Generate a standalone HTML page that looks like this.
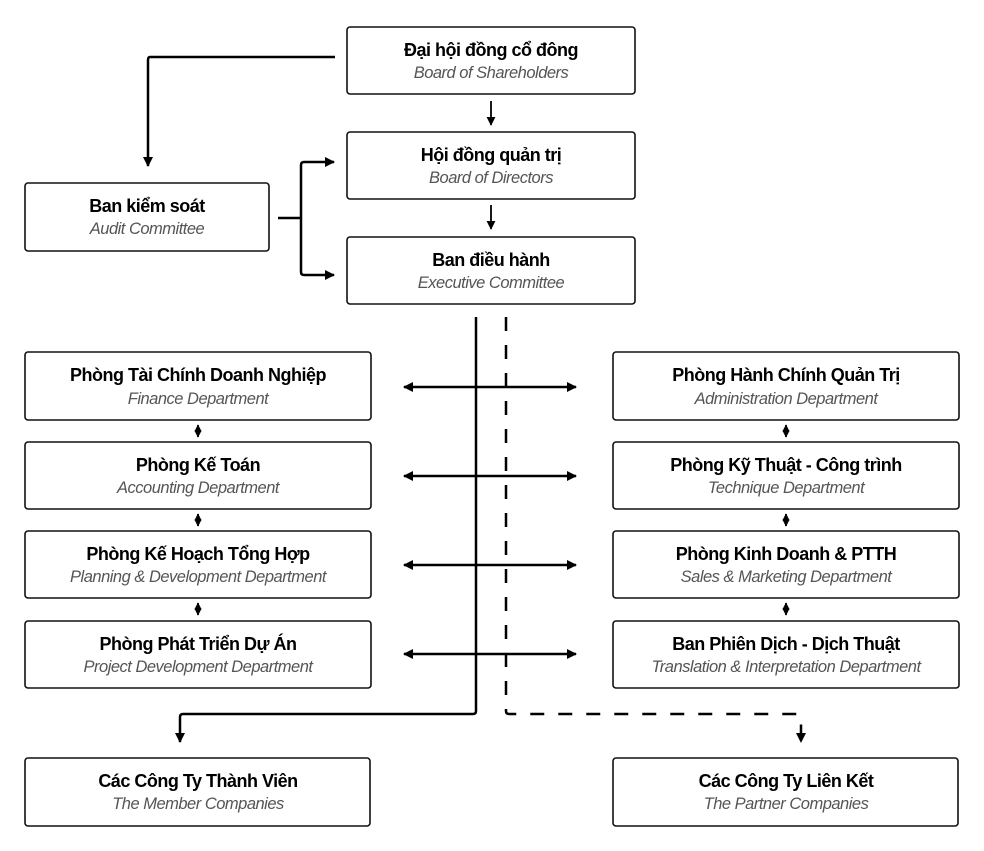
<!DOCTYPE html>
<html><head><meta charset="utf-8"><style>
html,body{margin:0;padding:0;background:#fff;}
svg{display:block}
.b{fill:#fff;stroke:#111;stroke-width:1.6}
.t{font-family:"Liberation Sans",sans-serif;font-weight:bold;font-size:18px;fill:#000;text-anchor:middle;letter-spacing:-0.5px}
.s{font-family:"Liberation Sans",sans-serif;font-style:italic;font-size:16.5px;fill:#555;text-anchor:middle;letter-spacing:-0.5px}
.l{stroke:#000;stroke-width:2.5;fill:none}
.m{stroke:#000;stroke-width:1.8;fill:none}
</style></head><body>
<svg width="984" height="851" viewBox="0 0 984 851" xmlns="http://www.w3.org/2000/svg">
<defs>
<marker id="a" viewBox="0 0 10 10" refX="9" refY="5" markerWidth="4" markerHeight="4" orient="auto-start-reverse"><path d="M0,0 L10,5 L0,10 z" fill="#000"/></marker>
<marker id="a2" viewBox="0 0 10 10" refX="9" refY="5" markerWidth="5" markerHeight="5" orient="auto-start-reverse"><path d="M0,0 L10,5 L0,10 z" fill="#000"/></marker>
</defs>

<rect class="b" x="347" y="27" width="288" height="67" rx="3"/>
<text class="t" x="491" y="56">Đại hội đồng cổ đông</text>
<text class="s" x="491" y="78">Board of Shareholders</text>

<rect class="b" x="347" y="132" width="288" height="67" rx="3"/>
<text class="t" x="491" y="161">Hội đồng quản trị</text>
<text class="s" x="491" y="183">Board of Directors</text>

<rect class="b" x="347" y="237" width="288" height="67" rx="3"/>
<text class="t" x="491" y="266">Ban điều hành</text>
<text class="s" x="491" y="288">Executive Committee</text>

<rect class="b" x="25" y="183" width="244" height="68" rx="3"/>
<text class="t" x="147" y="212">Ban kiểm soát</text>
<text class="s" x="147" y="234">Audit Committee</text>

<line class="m" x1="491" y1="101" x2="491" y2="125" marker-end="url(#a2)"/>
<line class="m" x1="491" y1="205" x2="491" y2="229" marker-end="url(#a2)"/>
<path class="l" d="M335,57 H150 Q148,57 148,60 V166" marker-end="url(#a)"/>
<path class="l" d="M278,218 H301"/>
<path class="l" d="M334,162 H304 Q301,162 301,165 V272 Q301,275 304,275 H334" marker-start="url(#a)" marker-end="url(#a)"/>

<path class="l" d="M476,317 V711 Q476,714 473,714 H183 Q180,714 180,717 V742" marker-end="url(#a)"/>
<path class="l" d="M506,317 V711 Q506,714 509,714 H798 Q801,714 801,717 V742" stroke-dasharray="14 14" marker-end="url(#a)"/>

<line class="l" x1="404" y1="387" x2="576" y2="387" marker-start="url(#a)" marker-end="url(#a)"/>
<line class="l" x1="404" y1="476" x2="576" y2="476" marker-start="url(#a)" marker-end="url(#a)"/>
<line class="l" x1="404" y1="565" x2="576" y2="565" marker-start="url(#a)" marker-end="url(#a)"/>
<line class="l" x1="404" y1="654" x2="576" y2="654" marker-start="url(#a)" marker-end="url(#a)"/>

<rect class="b" x="25" y="352" width="346" height="68" rx="3"/>
<text class="t" x="198" y="381">Phòng Tài Chính Doanh Nghiệp</text>
<text class="s" x="198" y="404">Finance Department</text>
<rect class="b" x="25" y="442" width="346" height="67" rx="3"/>
<text class="t" x="198" y="471">Phòng Kế Toán</text>
<text class="s" x="198" y="493">Accounting Department</text>
<rect class="b" x="25" y="531" width="346" height="67" rx="3"/>
<text class="t" x="198" y="560">Phòng Kế Hoạch Tổng Hợp</text>
<text class="s" x="198" y="582">Planning &amp; Development Department</text>
<rect class="b" x="25" y="621" width="346" height="67" rx="3"/>
<text class="t" x="198" y="650">Phòng Phát Triển Dự Án</text>
<text class="s" x="198" y="672">Project Development Department</text>
<line class="m" x1="198" y1="425" x2="198" y2="437" marker-start="url(#a)" marker-end="url(#a)"/>
<line class="m" x1="198" y1="514" x2="198" y2="526" marker-start="url(#a)" marker-end="url(#a)"/>
<line class="m" x1="198" y1="603" x2="198" y2="615" marker-start="url(#a)" marker-end="url(#a)"/>

<rect class="b" x="613" y="352" width="346" height="68" rx="3"/>
<text class="t" x="786" y="381">Phòng Hành Chính Quản Trị</text>
<text class="s" x="786" y="404">Administration Department</text>
<rect class="b" x="613" y="442" width="346" height="67" rx="3"/>
<text class="t" x="786" y="471">Phòng Kỹ Thuật - Công trình</text>
<text class="s" x="786" y="493">Technique Department</text>
<rect class="b" x="613" y="531" width="346" height="67" rx="3"/>
<text class="t" x="786" y="560">Phòng Kinh Doanh &amp; PTTH</text>
<text class="s" x="786" y="582">Sales &amp; Marketing Department</text>
<rect class="b" x="613" y="621" width="346" height="67" rx="3"/>
<text class="t" x="786" y="650">Ban Phiên Dịch - Dịch Thuật</text>
<text class="s" x="786" y="672">Translation &amp; Interpretation Department</text>
<line class="m" x1="786" y1="425" x2="786" y2="437" marker-start="url(#a)" marker-end="url(#a)"/>
<line class="m" x1="786" y1="514" x2="786" y2="526" marker-start="url(#a)" marker-end="url(#a)"/>
<line class="m" x1="786" y1="603" x2="786" y2="615" marker-start="url(#a)" marker-end="url(#a)"/>

<rect class="b" x="25" y="758" width="345" height="68" rx="3"/>
<text class="t" x="198" y="787">Các Công Ty Thành Viên</text>
<text class="s" x="198" y="809">The Member Companies</text>
<rect class="b" x="613" y="758" width="345" height="68" rx="3"/>
<text class="t" x="786" y="787">Các Công Ty Liên Kết</text>
<text class="s" x="786" y="809">The Partner Companies</text>
</svg>
</body></html>
